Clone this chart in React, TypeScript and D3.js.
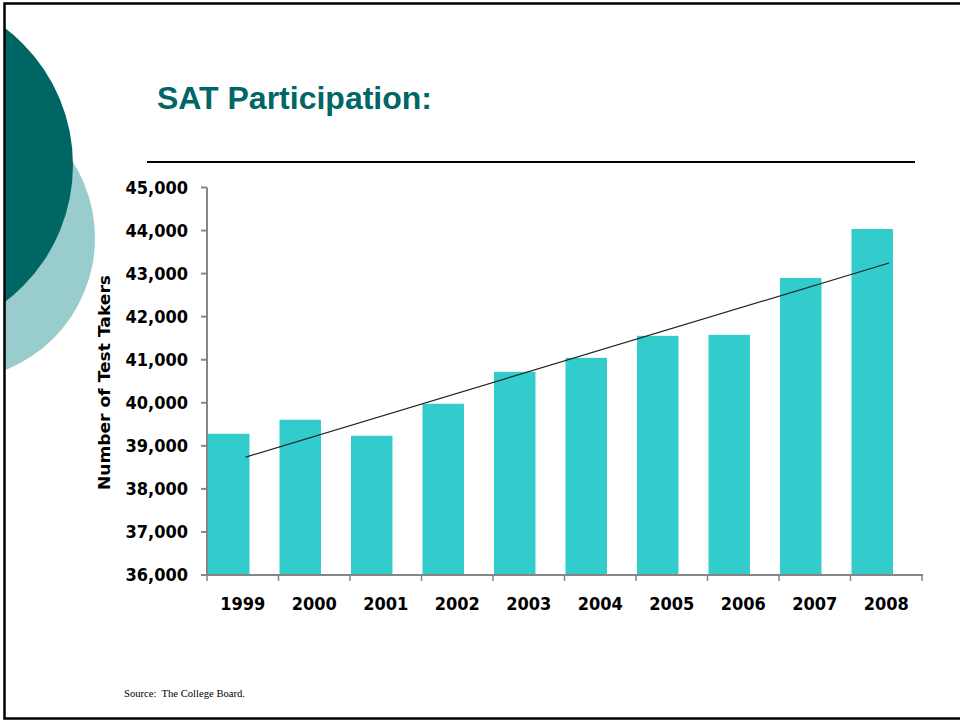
import React, { useEffect, useRef } from "react";
import * as d3 from "d3";

const years = ["1999", "2000", "2001", "2002", "2003", "2004", "2005", "2006", "2007", "2008"];
const takers = [39281, 39606, 39234, 39977, 40719, 41044, 41555, 41578, 42900, 44037];
const yTicks = [36000, 37000, 38000, 39000, 40000, 41000, 42000, 43000, 44000, 45000];

const W = 960;
const H = 721;
const labelFont = "'DejaVu Sans Condensed', 'DejaVu Sans', sans-serif";

const App = () => {
  const ref = useRef<SVGSVGElement>(null);

  useEffect(() => {
    const svg = d3.select(ref.current);
    svg.selectAll("*").remove();

    // slide background + decorative circles, clipped to the frame
    svg.append("defs").append("clipPath").attr("id", "frame")
      .append("rect").attr("x", 4).attr("y", 4).attr("width", W).attr("height", 714);
    const deco = svg.append("g").attr("clip-path", "url(#frame)");
    deco.append("circle").attr("cx", -47).attr("cy", 238).attr("r", 142).attr("fill", "#99CCCC");
    deco.append("circle").attr("cx", -99).attr("cy", 165).attr("r", 172).attr("fill", "#006663");

    // frame (top, left, bottom)
    svg.append("path")
      .attr("d", `M${W + 5},3.5 H4.5 V718.5 H${W + 5}`)
      .attr("fill", "none").attr("stroke", "#000").attr("stroke-width", 2.5);

    // title
    svg.append("text")
      .attr("x", 157).attr("y", 109)
      .attr("font-family", "'Liberation Sans', Arial, sans-serif")
      .attr("font-weight", "bold").attr("font-size", 32)
      .attr("fill", "#006666")
      .text("SAT Participation:");
    svg.append("line")
      .attr("x1", 147).attr("x2", 915).attr("y1", 162).attr("y2", 162)
      .attr("stroke", "#000").attr("stroke-width", 2);

    // scales
    const x = d3.scaleBand().domain(years).range([207, 922]).padding(0);
    const y = d3.scaleLinear().domain([36000, 45000]).range([575, 187.5]);
    const step = x.step();

    // bars (offset left like the original two-series layout)
    svg.selectAll(".bar")
      .data(years)
      .enter()
      .append("rect")
      .attr("class", "bar")
      .attr("x", (d: string) => (x(d) as number) + 1)
      .attr("width", step * 0.58)
      .attr("y", (d: string, i: number) => y(takers[i]))
      .attr("height", (d: string, i: number) => y(36000) - y(takers[i]))
      .attr("fill", "#33CCCC");

    // linear trend line (least squares)
    const n = takers.length;
    const mx = (n - 1) / 2;
    const my = d3.mean(takers) as number;
    let sxy = 0;
    let sxx = 0;
    takers.forEach((v, i) => {
      sxy += (i - mx) * (v - my);
      sxx += (i - mx) * (i - mx);
    });
    const slope = sxy / sxx;
    const fit = (i: number) => my + slope * (i - mx);
    svg.append("line")
      .attr("x1", (x(years[0]) as number) + step * 0.54)
      .attr("x2", (x(years[n - 1]) as number) + step * 0.54)
      .attr("y1", y(fit(0)))
      .attr("y2", y(fit(n - 1)))
      .attr("stroke", "#222").attr("stroke-width", 1.2);

    // y axis
    const yAxis = svg.append("g");
    yAxis.append("line")
      .attr("x1", 207).attr("x2", 207).attr("y1", y(45000)).attr("y2", y(36000))
      .attr("stroke", "#868686").attr("stroke-width", 2);
    yAxis.selectAll(".ytick")
      .data(yTicks)
      .enter()
      .append("line")
      .attr("x1", 201).attr("x2", 207)
      .attr("y1", (d: number) => y(d)).attr("y2", (d: number) => y(d))
      .attr("stroke", "#868686").attr("stroke-width", 2);
    yAxis.selectAll(".ylabel")
      .data(yTicks)
      .enter()
      .append("text")
      .attr("x", 188)
      .attr("y", (d: number) => y(d))
      .attr("dy", "0.36em")
      .attr("text-anchor", "end")
      .attr("font-family", labelFont)
      .attr("font-weight", "bold").attr("font-size", 18)
      .attr("fill", "#000")
      .text((d: number) => d3.format(",")(d));

    // x axis
    const xAxis = svg.append("g");
    xAxis.append("line")
      .attr("x1", 206).attr("x2", 923).attr("y1", 575).attr("y2", 575)
      .attr("stroke", "#868686").attr("stroke-width", 2);
    xAxis.selectAll(".xtick")
      .data(d3.range(years.length + 1))
      .enter()
      .append("line")
      .attr("x1", (i: number) => 207 + i * step)
      .attr("x2", (i: number) => 207 + i * step)
      .attr("y1", 575).attr("y2", 581)
      .attr("stroke", "#868686").attr("stroke-width", 1.5);
    xAxis.selectAll(".xlabel")
      .data(years)
      .enter()
      .append("text")
      .attr("x", (d: string) => (x(d) as number) + step / 2)
      .attr("y", 610)
      .attr("text-anchor", "middle")
      .attr("font-family", labelFont)
      .attr("font-weight", "bold").attr("font-size", 18)
      .attr("fill", "#000")
      .text((d: string) => d);

    // axis title
    svg.append("text")
      .attr("transform", "translate(110,382.5) rotate(-90)")
      .attr("text-anchor", "middle")
      .attr("font-family", "'DejaVu Sans', sans-serif")
      .attr("font-weight", "bold").attr("font-size", 16)
      .attr("textLength", 215).attr("lengthAdjust", "spacingAndGlyphs")
      .attr("fill", "#000")
      .text("Number of Test Takers");

    // source
    svg.append("text")
      .attr("x", 124).attr("y", 697)
      .attr("font-family", "'Liberation Serif', 'Times New Roman', serif")
      .attr("font-size", 10.5)
      .attr("textLength", 121).attr("lengthAdjust", "spacingAndGlyphs")
      .attr("fill", "#000")
      .attr("xml:space", "preserve")
      .text("Source:  The College Board.");
  }, []);

  return (
    <svg
      ref={ref}
      width={W}
      height={H}
      style={{ position: "absolute", left: 0, top: 0, background: "#fff" }}
    />
  );
};

export default App;
